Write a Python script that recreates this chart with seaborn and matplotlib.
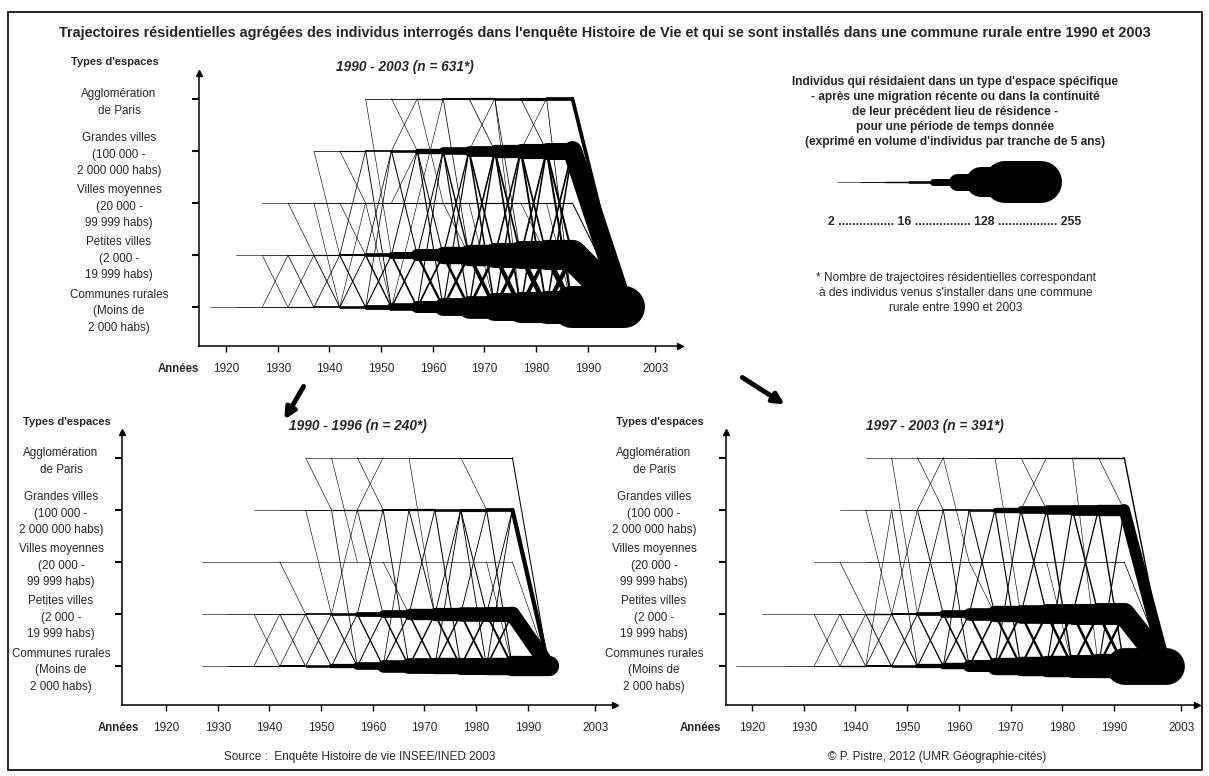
import numpy as np
import pandas as pd
import seaborn as sns
import matplotlib.pyplot as plt
from matplotlib.patches import Rectangle, FancyArrowPatch

W, H = 1209, 776

# ---------------- data ----------------
categories = ["Agglomération\nde Paris",
              "Grandes villes\n(100 000 -\n2 000 000 habs)",
              "Villes moyennes\n(20 000 -\n99 999 habs)",
              "Petites villes\n(2 000 -\n19 999 habs)",
              "Communes rurales\n(Moins de\n2 000 habs)"]
year_ticks = [1920, 1930, 1940, 1950, 1960, 1970, 1980, 1990, 2003]
slice_years = [1917, 1922, 1927, 1932, 1937, 1942, 1947, 1952,
               1957, 1962, 1967, 1972, 1977, 1982, 1987, 1992]
P, G, V, S, R = range(5)

# 1990 - 2003 (n = 631)
all_paris = [0, 0, 0, 0, 0, 0, 3, 4, 8, 12, 14, 16, 18, 20]
all_grandes = [0, 0, 0, 0, 3, 6, 10, 16, 26, 34, 44, 52, 58, 64]
all_moyennes = [0, 0, 2, 3, 4, 4, 5, 5, 6, 6, 6, 6, 5, 5]
all_petites = [0, 2, 3, 4, 6, 12, 20, 32, 48, 66, 86, 104, 118, 130]
all_rurales = [2, 3, 4, 6, 10, 16, 24, 34, 48, 68, 92, 118, 140, 160]
all_moves = [(2, R, S, 2), (2, S, R, 2),
             (3, V, S, 2), (3, R, S, 2), (3, S, R, 3),
             (4, S, R, 4), (4, R, S, 3), (4, V, R, 2), (4, G, S, 2),
             (5, S, R, 6), (5, R, S, 4), (5, G, V, 2), (5, V, S, 2), (5, S, G, 3), (5, R, V, 2),
             (6, S, R, 8), (6, R, S, 6), (6, G, R, 4), (6, P, S, 2), (6, S, G, 3), (6, V, R, 2), (6, R, G, 3),
             (7, S, R, 10), (7, R, S, 8), (7, G, S, 5), (7, S, G, 4), (7, P, G, 2), (7, G, P, 2), (7, V, G, 2), (7, R, V, 2),
             (8, S, R, 14), (8, R, S, 10), (8, G, R, 6), (8, R, G, 5), (8, P, V, 2), (8, V, P, 2), (8, S, G, 5), (8, G, S, 5),
             (9, S, R, 16), (9, R, S, 14), (9, G, S, 8), (9, S, G, 7), (9, P, S, 3), (9, G, R, 6), (9, R, G, 6), (9, V, S, 2),
             (10, S, R, 20), (10, R, S, 16), (10, G, R, 9), (10, R, G, 8), (10, S, G, 9), (10, G, S, 9), (10, P, G, 3), (10, G, P, 2), (10, V, R, 2),
             (11, S, R, 22), (11, R, S, 18), (11, G, S, 10), (11, S, G, 9), (11, G, R, 10), (11, R, G, 8), (11, P, S, 3), (11, P, R, 2),
             (12, S, R, 24), (12, R, S, 20), (12, G, R, 11), (12, R, G, 9), (12, S, G, 10), (12, G, S, 10), (12, P, G, 3), (12, G, P, 2), (12, V, S, 2),
             (13, S, R, 26), (13, R, S, 22), (13, G, S, 12), (13, S, G, 10), (13, G, R, 12), (13, R, G, 9), (13, P, R, 3), (13, V, R, 2)]
all_final = [20, 76, 5, 130, 255]
all_end = 1997

# 1990 - 1996 (n = 240)
early_paris = [0, 0, 0, 0, 0, 0, 2, 2, 3, 3, 4, 4, 5, 5]
early_grandes = [0, 0, 0, 0, 2, 3, 4, 6, 8, 12, 14, 16, 18, 20]
early_moyennes = [0, 0, 2, 2, 2, 2, 2, 2, 2, 2, 2, 2, 2, 2]
early_petites = [0, 0, 2, 3, 4, 6, 10, 16, 24, 34, 46, 52, 56, 58]
early_rurales = [0, 0, 2, 4, 6, 12, 16, 22, 34, 50, 60, 62, 64, 66]
early_moves = [(4, S, R, 2), (4, R, S, 2),
               (5, S, R, 3), (5, R, S, 2), (5, V, S, 2),
               (6, S, R, 4), (6, R, S, 3), (6, G, S, 2), (6, P, G, 2),
               (7, S, R, 5), (7, R, S, 4), (7, G, R, 3), (7, P, V, 2), (7, S, G, 2),
               (8, S, R, 7), (8, R, S, 5), (8, G, S, 3), (8, S, G, 3), (8, P, G, 2), (8, G, P, 2),
               (9, S, R, 8), (9, R, S, 6), (9, G, R, 4), (9, R, G, 3), (9, V, S, 2),
               (10, S, R, 9), (10, R, S, 8), (10, G, S, 4), (10, S, G, 4), (10, P, S, 2),
               (11, S, R, 10), (11, R, S, 8), (11, G, R, 5), (11, R, G, 4), (11, S, G, 4),
               (12, S, R, 11), (12, R, S, 9), (12, G, S, 5), (12, S, G, 4), (12, P, G, 2), (12, G, R, 4),
               (13, S, R, 12), (13, R, S, 9), (13, G, R, 5), (13, R, G, 4), (13, S, G, 4), (13, V, R, 2)]
early_final = [5, 22, 2, 58, 80]
early_end = 1994

# 1997 - 2003 (n = 391)
late_paris = [0, 0, 0, 0, 0, 2, 2, 3, 3, 4, 5, 6, 6, 8, 8]
late_grandes = [0, 0, 0, 0, 2, 3, 4, 6, 10, 16, 26, 34, 40, 44, 46]
late_moyennes = [0, 0, 0, 2, 2, 3, 3, 4, 4, 4, 4, 4, 3, 3, 3]
late_petites = [0, 2, 2, 3, 4, 8, 12, 20, 34, 50, 62, 72, 78, 84, 88]
late_rurales = [2, 2, 3, 4, 8, 12, 16, 22, 30, 48, 66, 76, 86, 94, 100]
late_moves = [(3, R, S, 2), (3, S, R, 2),
              (4, S, R, 3), (4, R, S, 2), (4, V, S, 2),
              (5, S, R, 4), (5, R, S, 3), (5, G, S, 2), (5, R, G, 2),
              (6, S, R, 5), (6, R, S, 4), (6, G, R, 3), (6, P, S, 2), (6, S, G, 2),
              (7, S, R, 7), (7, R, S, 5), (7, G, S, 4), (7, S, G, 3), (7, P, G, 2), (7, G, P, 2),
              (8, S, R, 9), (8, R, S, 7), (8, G, R, 4), (8, R, G, 4), (8, P, V, 2),
              (9, S, R, 11), (9, R, S, 9), (9, G, S, 5), (9, S, G, 5), (9, V, S, 2),
              (10, S, R, 13), (10, R, S, 11), (10, G, R, 6), (10, R, G, 5), (10, P, S, 2),
              (11, S, R, 14), (11, R, S, 12), (11, G, S, 7), (11, S, G, 6), (11, P, G, 2), (11, G, P, 2),
              (12, S, R, 15), (12, R, S, 12), (12, G, R, 8), (12, R, G, 6), (12, V, R, 2),
              (13, S, R, 16), (13, R, S, 13), (13, G, S, 8), (13, S, G, 7), (13, P, R, 2),
              (14, S, R, 17), (14, R, S, 14), (14, G, R, 8), (14, R, G, 6), (14, P, G, 2)]
late_final = [8, 46, 3, 90, 200]
late_end = 2000

# width scale (individuals -> pixels), as in the legend
scale_counts = [1, 2, 4, 8, 16, 32, 64, 128, 255, 1000]
scale_px = [0.4, 0.6, 0.9, 1.4, 2.6, 7, 17, 30, 42, 44]
legend_counts = [2, 4, 8, 16, 32, 64, 128, 255]


def width_pt(counts):
    return np.interp(counts, scale_counts, scale_px) * 0.72


def build_segments(rows, moves, final, end_year):
    recs = []
    sid = 0
    for r, counts in enumerate(rows):
        for k, c in enumerate(counts):
            if c > 0:
                recs.append((sid, slice_years[k], 4 - r, c))
                recs.append((sid, slice_years[k + 1], 4 - r, c))
                sid += 1
    for k, a, b, c in moves:
        recs.append((sid, slice_years[k], 4 - a, c))
        recs.append((sid, slice_years[k + 1], 4 - b, c))
        sid += 1
    last = slice_years[len(rows[0])]
    for r, c in enumerate(final):
        recs.append((sid, last, 4 - r, c))
        recs.append((sid, end_year, 0, c))
        sid += 1
    df = pd.DataFrame(recs, columns=['seg', 'x', 'y', 'count'])
    df['lw'] = width_pt(df['count']).round(3)
    return df


def draw_flows(ax, df):
    sizes = {v: v for v in df['lw'].unique()}
    sns.lineplot(data=df, x='x', y='y', units='seg', estimator=None, size='lw',
                 sizes=sizes, color='black', legend=False, sort=False, ax=ax,
                 solid_capstyle='round', clip_on=False)


sns.set_theme(style='white')
plt.rcParams['font.family'] = ['Liberation Sans', 'DejaVu Sans']

fig = plt.figure(figsize=(W / 100, H / 100), dpi=100)


def fx(x):
    return x / W


def fy(y):
    return 1 - y / H


panels = [
    dict(rows=[all_paris, all_grandes, all_moyennes, all_petites, all_rurales],
         moves=all_moves, final=all_final, end=all_end, title='1990 - 2003 (n = 631*)',
         box=(199, 73, 680, 346), x1920=226, label_x=121, types=(115, 62),
         annees=(178, 369), title_xy=(405, 67)),
    dict(rows=[early_paris, early_grandes, early_moyennes, early_petites, early_rurales],
         moves=early_moves, final=early_final, end=early_end, title='1990 - 1996 (n = 240*)',
         box=(122, 432, 615, 705), x1920=166, label_x=63, types=(67, 422),
         annees=(118, 728), title_xy=(358, 426)),
    dict(rows=[late_paris, late_grandes, late_moyennes, late_petites, late_rurales],
         moves=late_moves, final=late_final, end=late_end, title='1997 - 2003 (n = 391*)',
         box=(726, 432, 1197, 705), x1920=752, label_x=656, types=(660, 422),
         annees=(700, 728), title_xy=(935, 426)),
]
ppy = 5.17  # pixels per year on the time axis

for p in panels:
    x0, y0, x1, y1 = p['box']
    ax = fig.add_axes([fx(x0), fy(y1), (x1 - x0) / W, (y1 - y0) / H])
    ax.set_facecolor('none')
    df = build_segments(p['rows'], p['moves'], p['final'], p['end'])
    draw_flows(ax, df)
    ax.set_xlim(1920 + (x0 - p['x1920']) / ppy, 1920 + (x1 - p['x1920']) / ppy)
    ax.set_ylim(-0.74, 4.49)
    for side in ['top', 'right']:
        ax.spines[side].set_visible(False)
    for side in ['left', 'bottom']:
        ax.spines[side].set_color('black')
        ax.spines[side].set_linewidth(1.1)
    ax.plot(1, 0, '>', color='black', ms=4, transform=ax.transAxes, clip_on=False)
    ax.plot(0, 1, '^', color='black', ms=4, transform=ax.transAxes, clip_on=False)
    ax.set_xticks(year_ticks, labels=[str(y) for y in year_ticks], fontsize=8.5)
    ax.set_yticks(range(5), labels=categories[::-1], fontsize=8.4, ha='center',
                  linespacing=1.5)
    ax.tick_params(axis='x', direction='out', length=4, width=1, color='black', pad=8,
                   bottom=True)
    ax.tick_params(axis='y', direction='out', length=5, width=1.5, color='black',
                   left=True, pad=(x0 - p['label_x'] - 5) * 0.72)
    ax.set_xlabel('')
    ax.set_ylabel('')
    fig.text(fx(p['types'][0]), fy(p['types'][1]), "Types d'espaces", fontsize=8,
             fontweight='bold', ha='center', va='center')
    fig.text(fx(p['annees'][0]), fy(p['annees'][1]), 'Années', fontsize=8.3,
             fontweight='bold', ha='center', va='center')
    fig.text(fx(p['title_xy'][0]), fy(p['title_xy'][1]), p['title'], fontsize=9.8,
             fontweight='bold', fontstyle='italic', ha='center', va='center')

# legend shape
ax_leg = fig.add_axes([fx(837), fy(202), (1063 - 837) / W, 40 / H])
ax_leg.set_axis_off()
leg_recs = []
for i, c in enumerate(legend_counts):
    end_x = i + 1 if i < len(legend_counts) - 1 else 8.5
    leg_recs += [(i, i, 0, c), (i, end_x, 0, c)]
leg_df = pd.DataFrame(leg_recs, columns=['seg', 'x', 'y', 'count'])
leg_df['lw'] = width_pt(leg_df['count']).round(3)
draw_flows(ax_leg, leg_df)
ax_leg.set_xlim(0, 9.42)
ax_leg.set_ylim(-1, 1)
ax_leg.set_xlabel('')
ax_leg.set_ylabel('')

fig.text(fx(955), fy(112), "Individus qui résidaient dans un type d'espace spécifique\n"
         "- après une migration récente ou dans la continuité\n"
         "de leur précédent lieu de résidence -\n"
         "pour une période de temps donnée\n"
         "(exprimé en volume d'individus par tranche de 5 ans)",
         fontsize=8.6, fontweight='bold', ha='center', va='center', linespacing=1.35)
fig.text(fx(955), fy(222), '2 ................ 16 ................ 128 ................. 255',
         fontsize=8.8, fontweight='bold', ha='center', va='center')
fig.text(fx(956), fy(293), "* Nombre de trajectoires résidentielles correspondant\n"
         "à des individus venus s'installer dans une commune\n"
         "rurale entre 1990 et 2003",
         fontsize=8.6, ha='center', va='center', linespacing=1.35)

fig.text(0.5, fy(33), "Trajectoires résidentielles agrégées des individus interrogés dans "
         "l'enquête Histoire de Vie et qui se sont installés dans une commune rurale "
         "entre 1990 et 2003", fontsize=10.4, fontweight='bold', ha='center', va='center')
fig.text(fx(360), fy(757), 'Source :  Enquête Histoire de vie INSEE/INED 2003',
         fontsize=8.5, ha='center', va='center')
fig.text(fx(937), fy(757), '© P. Pistre, 2012 (UMR Géographie-cités)',
         fontsize=8.5, ha='center', va='center')

# frame and arrows between the panels
fig.add_artist(Rectangle((fx(8), fy(770)), (1202 - 8) / W, (770 - 12) / H,
                         transform=fig.transFigure, fill=False, lw=1.2, ec='black'))
for a, b in [((305, 384), (283, 422)), ((740, 376), (787, 406))]:
    fig.add_artist(FancyArrowPatch((fx(a[0]), fy(a[1])), (fx(b[0]), fy(b[1])),
                                   transform=fig.transFigure, arrowstyle='-|>',
                                   mutation_scale=16, lw=3.5, color='black'))

fig.savefig('out.png', dpi=100, facecolor='white')
